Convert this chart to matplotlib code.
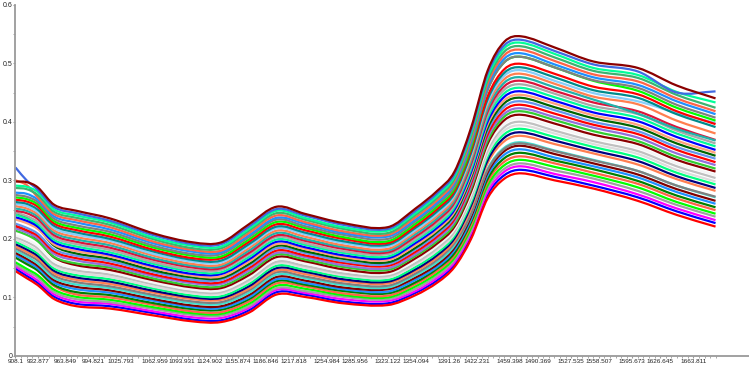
import matplotlib
matplotlib.use("Agg")
import matplotlib.pyplot as plt
from matplotlib.ticker import FixedLocator
from matplotlib.path import Path
from matplotlib.patches import PathPatch

plt.rcParams['font.family'] = ['Liberation Sans', 'DejaVu Sans']

# wavelength grid (nm) at which spectra values were read
wavelengths = [908.1, 920.5, 932.9, 951.5, 976.2, 1013.4, 1062.9, 1106.3, 1137.3, 1168.3,
               1199.2, 1230.2, 1273.6, 1323.1, 1354.1, 1378.9, 1397.5, 1416.0, 1434.6, 1453.2,
               1471.8, 1509.0, 1552.3, 1601.8, 1645.2, 1688.5]

# tick labels on the x axis
tick_values = [908.1, 932.877, 963.849, 994.821, 1025.793, 1062.959, 1093.931, 1124.902,
               1155.874, 1186.846, 1217.818, 1254.984, 1285.956, 1323.122, 1354.094, 1391.26,
               1422.231, 1459.398, 1490.369, 1527.535, 1558.507, 1595.673, 1626.645, 1663.811]
tick_labels = ["908.1", "932.877", "963.849", "994.821", "1025.793", "1062.959", "1093.931",
               "1124.902", "1155.874", "1186.846", "1217.818", "1254.984", "1285.956",
               "1323.122", "1354.094", "1391.26", "1422.231", "1459.398", "1490.369",
               "1527.535", "1558.507", "1595.673", "1626.645", "1663.811"]
y_ticks = [0, 0.1, 0.2, 0.3, 0.4, 0.5, 0.6]
y_tick_labels = ["0", "0.1", "0.2", "0.3", "0.4", "0.5", "0.6"]

# spectra, listed from the lowest to the highest
spectra = [
    [.145,.133,.121,.097,.085,.081,.069,.059,.058,.074,.105,.101,.090,.087,.104,.126,.152,.200,.270,.303,.312,.300,.286,.265,.241,.221],
    [.149,.137,.125,.101,.089,.085,.073,.062,.061,.078,.109,.105,.093,.090,.108,.130,.156,.205,.276,.309,.318,.306,.291,.271,.247,.227],
    [.153,.141,.129,.105,.093,.089,.076,.066,.065,.082,.113,.108,.097,.094,.111,.134,.160,.210,.281,.315,.324,.311,.297,.276,.252,.232],
    [.156,.145,.134,.109,.097,.092,.080,.070,.069,.085,.116,.111,.101,.097,.115,.138,.164,.214,.287,.320,.329,.317,.303,.282,.258,.238],
    [.160,.149,.138,.113,.101,.096,.083,.073,.072,.089,.120,.115,.104,.100,.119,.142,.168,.219,.292,.326,.335,.323,.308,.288,.263,.243],
    [.172,.161,.146,.119,.105,.100,.087,.076,.075,.093,.124,.119,.107,.103,.123,.146,.172,.224,.298,.332,.341,.329,.313,.294,.269,.249],
    [.168,.157,.146,.121,.109,.104,.090,.080,.079,.097,.128,.122,.111,.107,.126,.150,.176,.229,.303,.338,.347,.334,.319,.299,.274,.254],
    [.172,.162,.150,.125,.114,.108,.094,.083,.082,.100,.131,.125,.114,.110,.130,.153,.181,.233,.309,.344,.353,.339,.324,.305,.280,.260],
    [.176,.166,.154,.129,.118,.112,.097,.086,.085,.104,.135,.129,.117,.114,.134,.157,.185,.238,.314,.350,.359,.345,.329,.310,.285,.265],
    [.180,.170,.158,.133,.122,.116,.101,.090,.089,.108,.139,.133,.121,.117,.138,.161,.189,.243,.320,.356,.365,.351,.335,.316,.291,.271],
    [.184,.174,.163,.137,.126,.119,.104,.093,.092,.112,.143,.136,.124,.120,.141,.165,.193,.243,.318,.354,.363,.350,.334,.316,.291,.272],
    [.187,.178,.167,.141,.130,.123,.108,.097,.096,.115,.146,.140,.128,.124,.145,.169,.197,.252,.330,.367,.376,.362,.346,.327,.302,.282],
    [.191,.182,.171,.145,.134,.127,.111,.100,.099,.119,.150,.144,.131,.127,.148,.173,.201,.257,.335,.373,.382,.368,.351,.333,.307,.287],
    [.195,.186,.175,.149,.138,.131,.115,.103,.102,.123,.154,.147,.135,.130,.152,.177,.205,.262,.341,.379,.388,.374,.357,.339,.313,.293],
    [.199,.190,.179,.153,.142,.135,.118,.107,.106,.127,.158,.151,.138,.134,.156,.181,.209,.267,.346,.385,.394,.380,.362,.345,.318,.298],
    [.203,.195,.184,.157,.146,.139,.122,.110,.109,.130,.161,.154,.141,.137,.159,.185,.213,.271,.352,.391,.400,.385,.367,.350,.324,.304],
    [.206,.199,.188,.161,.150,.143,.125,.113,.112,.134,.165,.158,.145,.140,.163,.189,.217,.276,.357,.397,.406,.391,.373,.356,.329,.309],
    [.222,.214,.198,.168,.155,.147,.129,.117,.116,.138,.169,.162,.148,.143,.167,.193,.221,.281,.363,.403,.412,.397,.378,.362,.335,.315],
    [.214,.207,.196,.169,.158,.151,.132,.120,.119,.142,.173,.165,.152,.147,.171,.197,.225,.286,.368,.409,.418,.403,.384,.367,.340,.320],
    [.218,.211,.201,.174,.163,.154,.136,.124,.123,.146,.176,.169,.155,.150,.174,.201,.230,.290,.374,.414,.423,.408,.390,.373,.346,.326],
    [.222,.215,.205,.178,.167,.158,.139,.127,.126,.150,.180,.172,.159,.154,.178,.205,.234,.295,.379,.420,.429,.414,.395,.379,.352,.331],
    [.226,.219,.209,.182,.171,.162,.143,.130,.130,.154,.184,.176,.162,.157,.182,.209,.238,.300,.385,.426,.435,.420,.400,.384,.357,.337],
    [.245,.236,.220,.188,.175,.166,.146,.134,.133,.157,.188,.179,.166,.160,.185,.213,.242,.305,.390,.432,.441,.425,.406,.390,.363,.342],
    [.233,.227,.217,.190,.179,.170,.150,.137,.136,.161,.191,.183,.169,.164,.189,.216,.246,.309,.396,.437,.446,.431,.411,.395,.368,.347],
    [.237,.231,.221,.194,.183,.173,.153,.140,.140,.165,.195,.186,.172,.167,.193,.220,.250,.314,.401,.443,.452,.436,.416,.401,.374,.352],
    [.241,.235,.225,.198,.187,.177,.157,.144,.143,.169,.199,.190,.176,.170,.197,.224,.254,.319,.407,.449,.458,.442,.422,.407,.380,.358],
    [.245,.239,.229,.202,.191,.181,.160,.147,.147,.173,.203,.193,.179,.174,.200,.228,.258,.324,.412,.455,.464,.448,.427,.413,.385,.363],
    [.248,.244,.234,.206,.195,.185,.164,.151,.150,.176,.206,.197,.183,.177,.204,.232,.262,.328,.418,.461,.470,.453,.433,.418,.391,.369],
    [.252,.248,.238,.210,.199,.189,.167,.154,.153,.180,.210,.200,.186,.180,.208,.236,.266,.333,.423,.467,.476,.459,.438,.414,.388,.368],
    [.256,.252,.242,.214,.203,.193,.171,.157,.156,.184,.214,.204,.189,.183,.212,.240,.270,.338,.429,.473,.482,.465,.443,.430,.402,.380],
    [.260,.256,.246,.218,.207,.197,.174,.161,.160,.188,.218,.208,.193,.187,.215,.244,.274,.343,.434,.479,.488,.470,.449,.435,.415,.398],
    [.263,.260,.250,.222,.211,.200,.178,.164,.163,.191,.221,.211,.196,.190,.219,.248,.278,.347,.439,.484,.493,.476,.454,.441,.413,.391],
    [.267,.264,.255,.226,.215,.204,.181,.167,.167,.195,.225,.215,.200,.193,.222,.252,.282,.352,.444,.490,.499,.482,.460,.447,.418,.396],
    [.271,.268,.259,.230,.219,.208,.185,.171,.170,.199,.229,.219,.203,.196,.226,.256,.286,.357,.456,.502,.511,.493,.470,.453,.424,.402],
    [.275,.272,.263,.234,.223,.212,.188,.174,.174,.203,.233,.222,.207,.200,.230,.260,.290,.362,.455,.502,.511,.493,.471,.458,.429,.407],
    [.279,.277,.267,.238,.228,.216,.192,.178,.177,.206,.236,.226,.210,.204,.233,.263,.295,.366,.461,.508,.517,.498,.476,.463,.435,.413],
    [.300,.292,.271,.242,.232,.220,.195,.181,.180,.210,.240,.229,.213,.207,.237,.267,.299,.371,.466,.514,.523,.504,.481,.469,.440,.418],
    [.287,.285,.275,.246,.236,.224,.199,.184,.184,.214,.244,.233,.217,.210,.241,.271,.303,.376,.472,.520,.529,.510,.487,.475,.446,.424],
    [.291,.289,.280,.250,.240,.228,.202,.188,.187,.217,.248,.236,.220,.214,.244,.275,.307,.381,.477,.526,.535,.516,.492,.480,.451,.433],
    [.322,.300,.284,.254,.244,.231,.206,.191,.191,.221,.251,.240,.224,.217,.248,.279,.311,.385,.483,.531,.540,.521,.498,.486,.450,.452],
    [.298,.297,.288,.258,.248,.235,.209,.194,.194,.225,.255,.243,.227,.220,.252,.283,.315,.390,.488,.537,.546,.527,.503,.492,.462,.440],
]

line_colors = ['#FF0000', '#0000FF', '#FF00FF', '#A0A0A0', '#00FF00', '#FF6347', '#008000',
               '#1E90FF', '#800000', '#40E0D0', '#808080', '#FF7F50', '#000080', '#00FF7F',
               '#DCDCDC', '#C0C0C0', '#F5F5F5', '#8B0000', '#32CD32', '#9370DB', '#FF0000',
               '#6495ED', '#006400', '#FFA07A', '#0000FF', '#00FA9A', '#A9A9A9', '#DC143C',
               '#20B2AA', '#FF7F50', '#87CEFA', '#008B8B', '#FF0000', '#00FF00', '#808080',
               '#1E90FF', '#FF6347', '#3CB371', '#00FF99', '#4169E1', '#8B0000']


def smooth_path(xs, ys):
    """Cubic Bezier path through the data points (drawn by matplotlib in data coords)."""
    n = len(xs)
    slopes = []
    for i in range(n):
        if i == 0:
            slopes.append((ys[1] - ys[0]) / (xs[1] - xs[0]))
        elif i == n - 1:
            slopes.append((ys[-1] - ys[-2]) / (xs[-1] - xs[-2]))
        else:
            slopes.append((ys[i + 1] - ys[i - 1]) / (xs[i + 1] - xs[i - 1]))
    verts = [(xs[0], ys[0])]
    codes = [Path.MOVETO]
    for i in range(n - 1):
        h = xs[i + 1] - xs[i]
        verts += [(xs[i] + h / 3, ys[i] + slopes[i] * h / 3),
                  (xs[i + 1] - h / 3, ys[i + 1] - slopes[i + 1] * h / 3),
                  (xs[i + 1], ys[i + 1])]
        codes += [Path.CURVE4] * 3
    return Path(verts, codes)


W, H = 749, 367
fig = plt.figure(figsize=(W / 100, H / 100), dpi=100)
ax = fig.add_axes([15.5 / W, 11 / H, (W - 15.5) / W, (H - 11 - 4.7) / H])

n = len(spectra)
order = list(range(1, n - 1)) + [0, n - 1]
for z, i in enumerate(order):
    patch = PathPatch(smooth_path(wavelengths, spectra[i]), facecolor='none',
                      edgecolor=line_colors[i], lw=1.6, zorder=2 + z * 0.01,
                      joinstyle='round', capstyle='butt')
    ax.add_patch(patch)

ax.set_xlim(908.1, 1725.8)
ax.set_ylim(0, 0.6)

ax.set_xticks(tick_values)
ax.set_xticklabels(tick_labels)
minor_x = [908.1 + 6.1944 * k for k in range(0, 127)]
ax.xaxis.set_minor_locator(FixedLocator(minor_x))
ax.set_yticks(y_ticks)
ax.set_yticklabels(y_tick_labels)
ax.yaxis.set_minor_locator(FixedLocator([0.05, 0.15, 0.25, 0.35, 0.45, 0.55]))

for s in ['top', 'right']:
    ax.spines[s].set_visible(False)
for s in ['left', 'bottom']:
    ax.spines[s].set_color('#9a9a9a')
    ax.spines[s].set_linewidth(1.3)

ax.tick_params(axis='x', which='major', labelsize=4.6, colors='#9a9a9a',
               labelcolor='#222222', length=1.6, width=0.8, pad=0.6)
ax.tick_params(axis='y', which='major', labelsize=5.0, colors='#9a9a9a',
               labelcolor='#222222', length=1.6, width=0.8, pad=0.8)
ax.tick_params(axis='both', which='minor', colors='#9a9a9a', length=1.2, width=0.6)

fig.savefig('out.png', dpi=100)
